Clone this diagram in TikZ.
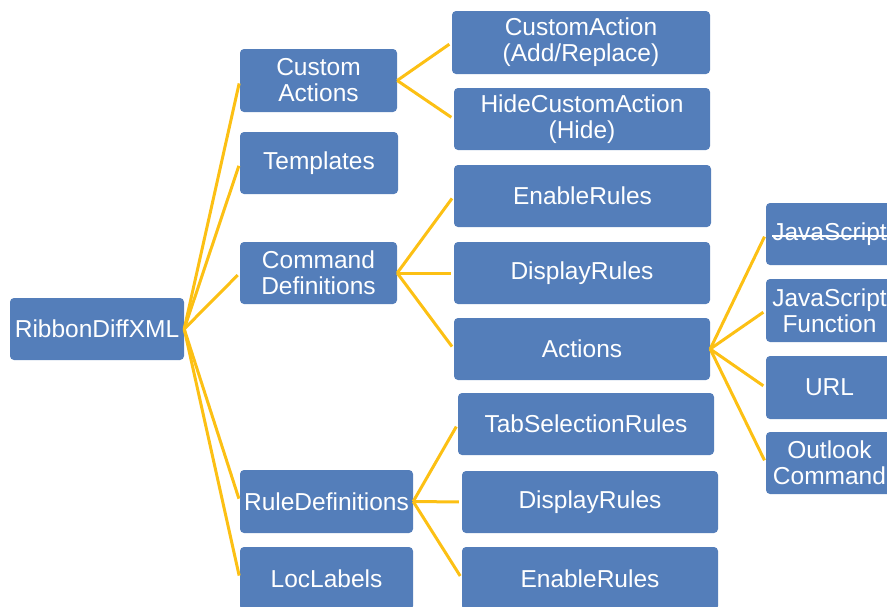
\documentclass[tikz,border=0pt]{standalone}
\usepackage{fontspec}
\setmainfont{Liberation Sans}
\definecolor{boxblue}{RGB}{84,126,186}
\definecolor{linkgold}{RGB}{252,192,20}
\begin{document}
\begin{tikzpicture}[x=1pt,y=-1pt,
  box/.style={rectangle,rounded corners=4pt,fill=boxblue,text=white,
    inner sep=0pt,align=center,font=\fontsize{24.5}{26}\selectfont},
  plaintext/.style={inner sep=0pt,text=white,font=\fontsize{24.5}{26}\selectfont},
  link/.style={draw=linkgold,line width=3pt,shorten >=3pt}]
\useasboundingbox (0,0) rectangle (887,606);
\clip (0,0) rectangle (887,606);
% root
\node[box,minimum width=174pt,minimum height=62pt] (root) at (97,329) {RibbonDiffXML};
% level 1
\node[box,minimum width=157pt,minimum height=63pt] (ca) at (318.5,80.5) {Custom\\Actions};
\node[box,minimum width=158pt,minimum height=62pt] (tp) at (319,163) {Templates};
\node[box,minimum width=157pt,minimum height=62pt] (cd) at (318.5,273) {Command\\Definitions};
\node[box,minimum width=173pt,minimum height=63pt] (rd) at (326.5,501.5) {RuleDefinitions};
\node[box,minimum width=173pt,minimum height=63pt] (ll) at (326.5,578.5) {LocLabels};
% level 2
\node[box,minimum width=258pt,minimum height=63pt] (cadd) at (581,42.5) {CustomAction\\(Add/Replace)};
\node[box,minimum width=256pt,minimum height=62pt] (hide) at (582,119) {HideCustomAction\\(Hide)};
\node[box,minimum width=257pt,minimum height=62pt] (en1) at (582.5,196) {EnableRules};
\node[box,minimum width=256pt,minimum height=62pt] (dr1) at (582,273) {DisplayRules};
\node[box,minimum width=256pt,minimum height=62pt] (act) at (582,349) {Actions};
\node[box,minimum width=256pt,minimum height=62pt] (tab) at (586,424) {TabSelectionRules};
\node[box,minimum width=256pt,minimum height=62pt] (dr2) at (590,502) {DisplayRules};
\node[box,minimum width=256pt,minimum height=63pt] (en2) at (590,578.5) {EnableRules};
% level 3
\node[box,minimum width=127pt,minimum height=62pt] (js) at (829.5,234) {};
\node[plaintext] (jst) at (js.center) {JavaScript};
\draw[white,line width=1.5pt] ([yshift=4.5pt]jst.base west) -- ([yshift=4.5pt]jst.base east);
\node[box,minimum width=127pt,minimum height=63pt] (jsf) at (829.5,310.5) {JavaScript\\Function};
\node[box,minimum width=127pt,minimum height=63pt] (url) at (829.5,387.5) {URL};
\node[box,minimum width=127pt,minimum height=62pt] (ol) at (829.5,463) {Outlook\\Command};
% connectors
\foreach \c in {ca,tp,cd,rd,ll} \draw[link] (root.east) -- (\c.west);
\foreach \c in {cadd,hide} \draw[link] (ca.east) -- (\c.west);
\foreach \c in {en1,dr1,act} \draw[link] (cd.east) -- (\c.west);
\foreach \c in {tab,dr2,en2} \draw[link] (rd.east) -- (\c.west);
\foreach \c in {js,jsf,url,ol} \draw[link] (act.east) -- (\c.west);
\end{tikzpicture}
\end{document}
